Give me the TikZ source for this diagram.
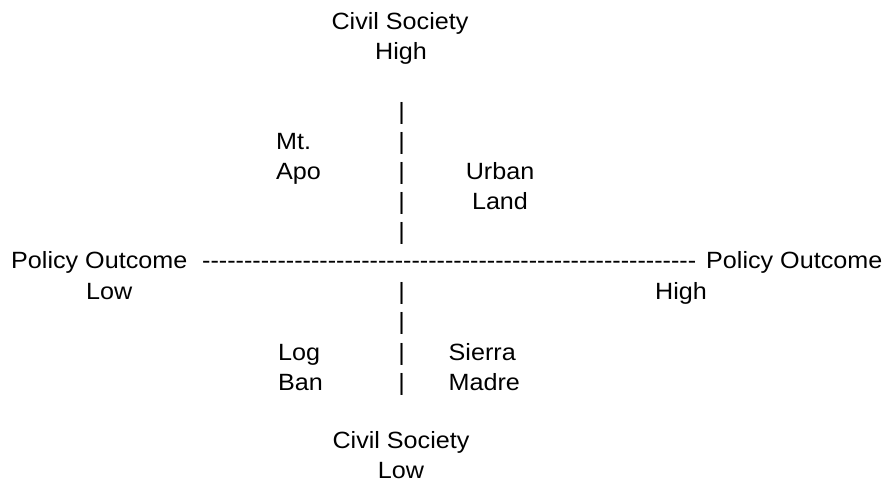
\documentclass[tikz,border=0pt]{standalone}
\usepackage{fontspec}
\newfontfamily\diagfont{Liberation Sans}[FakeStretch=1.07]
\begin{document}
\begin{tikzpicture}[x=1pt,y=-1pt,
    every node/.style={font=\diagfont\fontsize{23.5}{30}\selectfont, inner sep=0pt},
    mid/.style={anchor=base},
    left/.style={anchor=base west}]
            \useasboundingbox (0,0) rectangle (892,481);

            % top label
            \node[mid] (cshigh) at (400,30) {Civil Society};
            \node[mid] (cshighb) at (401,60) {High};

            % vertical axis
            \foreach \y in {120,150,180,210,240,300,330,360,390}
                \node[mid] (bar\y) at (401.7,\y) {|};

            % quadrant labels
            \node[left] (mta) at (276,150) {Mt.};
            \node[left] (mtb) at (276,180) {Apo};
            \node[mid] (urba) at (500,180) {Urban};
            \node[mid] (urbb) at (500,210) {Land};
            \node[left] (loga) at (278,360) {Log};
            \node[left] (logb) at (278,390) {Ban};
            \node[left] (sma) at (448.5,360) {Sierra};
            \node[left] (smb) at (448.5,390) {Madre};

            % horizontal axis
            \node[left] (polleft) at (11,269) {Policy Outcome};
            \node[left] (dashes) at (202,269) {-----------------------------------------------------------};
            \node[left] (polright) at (706,269) {Policy Outcome};
            \node[left] (pollow) at (86,299) {Low};
            \node[left] (polhigh) at (655,299) {High};

            % bottom label
            \node[mid] (cslow) at (401,448) {Civil Society};
            \node[mid] (cslowb) at (401,478) {Low};
\end{tikzpicture}
\end{document}
